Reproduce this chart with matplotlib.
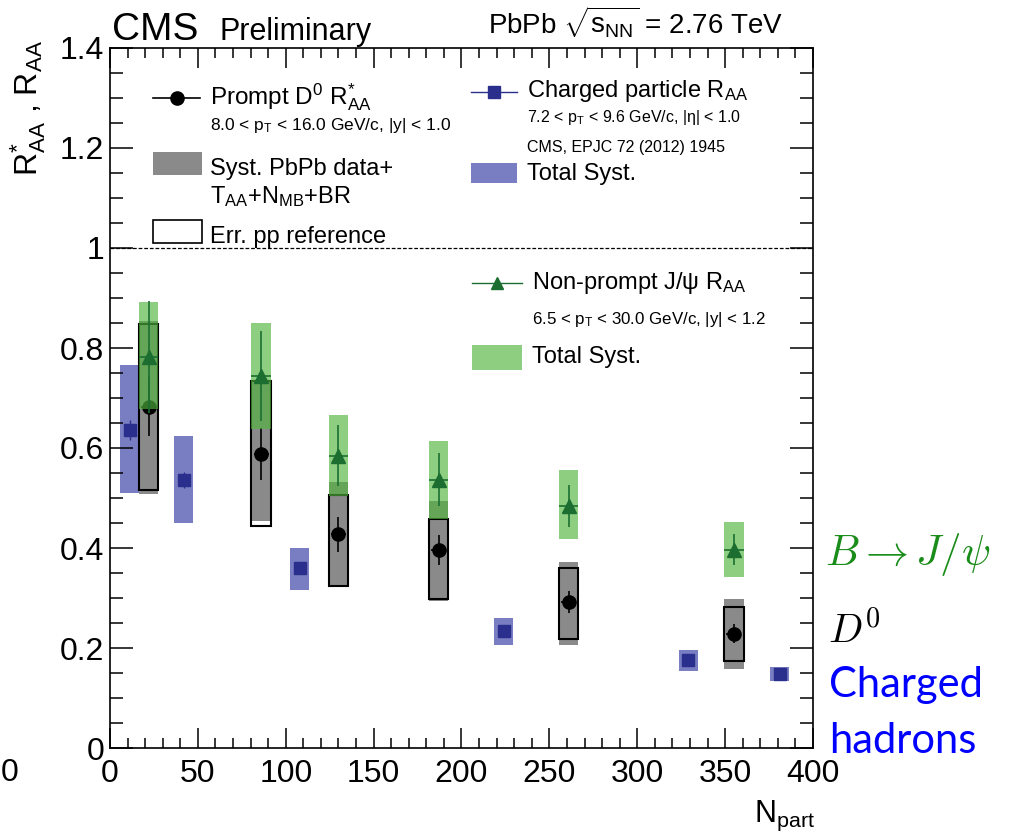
import matplotlib
matplotlib.use("Agg")
import matplotlib.pyplot as plt
from matplotlib.lines import Line2D
from matplotlib.patches import Rectangle
from matplotlib.ticker import FuncFormatter, MultipleLocator


# charged particle R_AA (CMS, EPJC 72 (2012) 1945)
npart_ch = [11.4, 42, 108, 224, 329, 381]
raa_ch = [0.637, 0.537, 0.361, 0.235, 0.177, 0.149]
stat_ch = [0.020, 0.016, 0.010, 0.008, 0.006, 0.005]
syst_ch_lo = [0.511, 0.451, 0.317, 0.207, 0.155, 0.134]
syst_ch_hi = [0.767, 0.624, 0.401, 0.261, 0.197, 0.162]

# prompt D0 R*_AA
npart_d0 = [22, 86, 130, 187, 261, 355]
raa_d0 = [0.683, 0.589, 0.428, 0.397, 0.292, 0.229]
stat_d0 = [0.058, 0.052, 0.035, 0.030, 0.022, 0.019]
syst_d0_lo = [0.509, 0.455, 0.322, 0.294, 0.207, 0.159]
syst_d0_hi = [0.855, 0.732, 0.532, 0.494, 0.372, 0.299]
pp_d0_lo = [0.517, 0.445, 0.325, 0.299, 0.219, 0.174]
pp_d0_hi = [0.849, 0.735, 0.505, 0.459, 0.360, 0.283]

# non-prompt J/psi R_AA
npart_jp = [22, 86, 130, 187, 261, 355]
raa_jp = [0.783, 0.745, 0.585, 0.537, 0.485, 0.397]
stat_jp = [0.112, 0.090, 0.061, 0.052, 0.042, 0.031]
syst_jp_lo = [0.679, 0.639, 0.505, 0.459, 0.419, 0.342]
syst_jp_hi = [0.893, 0.850, 0.667, 0.615, 0.555, 0.452]

BOX_W = 11.0

GRAY = "#8a8a8a"
BLUE_BOX = "#3237a0"
BLUE_MK = "#2a2e8c"
GREEN_BOX = "#50b43c"
GREEN_MK = "#1b6e30"

W, H = 1010, 839


def fx(px: float) -> float:
    return px / W


def fy(py: float) -> float:
    return 1 - py / H


plt.rcParams["font.family"] = ["Liberation Sans", "DejaVu Sans"]
plt.rcParams["mathtext.fontset"] = "custom"
plt.rcParams["mathtext.rm"] = "Liberation Sans"
plt.rcParams["mathtext.it"] = "Liberation Sans:italic"
plt.rcParams["mathtext.bf"] = "Liberation Sans:bold"
plt.rcParams["mathtext.sf"] = "Liberation Sans"

fig = plt.figure(figsize=(W / 100, H / 100), dpi=100)
ax = fig.add_axes([fx(110), fy(748), 703 / W, 700 / H])


def height(lo, hi):
    return [h - l for l, h in zip(lo, hi)]


# systematic boxes
ax.bar(npart_ch, height(syst_ch_lo, syst_ch_hi), bottom=syst_ch_lo, width=BOX_W,
       color=BLUE_BOX, alpha=0.65, linewidth=0, zorder=1)
ax.bar(npart_d0, height(syst_d0_lo, syst_d0_hi), bottom=syst_d0_lo, width=BOX_W,
       color=GRAY, linewidth=0, zorder=2)
ax.bar(npart_d0, height(pp_d0_lo, pp_d0_hi), bottom=pp_d0_lo, width=BOX_W,
       fill=False, edgecolor="black", linewidth=1.5, zorder=3)

ax.errorbar(npart_d0, raa_d0, yerr=stat_d0, xerr=4.3, fmt="o", color="black",
            ms=9.5, elinewidth=1.2, capsize=0, zorder=4)

ax.bar(npart_jp, height(syst_jp_lo, syst_jp_hi), bottom=syst_jp_lo, width=BOX_W,
       color=GREEN_BOX, alpha=0.65, linewidth=0, zorder=5)
ax.errorbar(npart_jp, raa_jp, yerr=stat_jp, xerr=BOX_W / 2, fmt="^", color=GREEN_MK,
            ms=9.5, elinewidth=1.2, capsize=0, zorder=6)
ax.errorbar(npart_ch, raa_ch, yerr=stat_ch, xerr=3.0, fmt="s", color=BLUE_MK,
            ms=8.5, elinewidth=1.0, capsize=0, zorder=6)

ax.axhline(1.0, color="black", linestyle=(0, (3, 1.5)), linewidth=0.9, zorder=0)

# axes, ROOT style
ax.set_xlim(0, 400)
ax.set_ylim(0, 1.4)
ax.xaxis.set_major_locator(MultipleLocator(50))
ax.xaxis.set_minor_locator(MultipleLocator(10))
ax.yaxis.set_major_locator(MultipleLocator(0.2))
ax.yaxis.set_minor_locator(MultipleLocator(0.05))
ax.yaxis.set_major_formatter(FuncFormatter(lambda v, _: f"{v:g}"))
ax.tick_params(axis="both", which="both", direction="in", top=True, right=True,
               labelsize=23, width=1.1)
ax.tick_params(axis="x", which="major", length=14.4, pad=8)
ax.tick_params(axis="x", which="minor", length=7.2)
ax.tick_params(axis="y", which="major", length=16.6, pad=4)
ax.tick_params(axis="y", which="minor", length=9.1)
for sp in ax.spines.values():
    sp.set_linewidth(1.2)

fig.text(fx(28), fy(40), r"R$^{*}_{\rm AA}$ , R$_{\rm AA}$", rotation=90,
         ha="center", va="top", fontsize=23)
fig.text(fx(815), fy(822), r"N$_{\rm part}$", ha="right", va="baseline", fontsize=22)
fig.text(fx(1), fy(781), "0", ha="left", va="baseline", fontsize=23)

# header
fig.text(fx(112), fy(40), "CMS", ha="left", va="baseline", fontsize=28)
fig.text(fx(220), fy(40), "Preliminary", ha="left", va="baseline", fontsize=22)
fig.text(fx(488), fy(34), r"PbPb $\sqrt{\mathrm{s}_{\rm NN}}$ = 2.76 TeV", ha="left",
         va="baseline", fontsize=20)

# legend, left block
leg_kw = dict(transform=fig.transFigure, clip_on=False)
fig.add_artist(Line2D([fx(153), fx(200)], [fy(97.5), fy(97.5)], color="black", lw=1.2, **leg_kw))
fig.add_artist(Line2D([fx(177)], [fy(97.5)], marker="o", ms=9.5, color="black", **leg_kw))
fig.text(fx(210), fy(104), r"Prompt D$^{0}$ R$^{*}_{\rm AA}$", fontsize=17.5, va="baseline")
fig.text(fx(210), fy(130), r"8.0 < p$_{\rm T}$ < 16.0 GeV/c, |y| < 1.0", fontsize=12.5,
         va="baseline")
fig.add_artist(Rectangle((fx(153), fy(175)), fx(49), 23 / H, facecolor=GRAY,
                         edgecolor="none", **leg_kw))
fig.text(fx(210), fy(175), "Syst. PbPb data+", fontsize=17, va="baseline")
fig.text(fx(210), fy(203), r"T$_{\rm AA}$+N$_{\rm MB}$+BR", fontsize=17, va="baseline")
fig.add_artist(Rectangle((fx(153), fy(243)), fx(49), 23 / H, facecolor="white",
                         edgecolor="black", lw=1.2, **leg_kw))
fig.text(fx(210), fy(243), "Err. pp reference", fontsize=17, va="baseline")

# legend, right block
fig.add_artist(Line2D([fx(471), fx(517)], [fy(92), fy(92)], color=BLUE_MK, lw=1.0, **leg_kw))
fig.add_artist(Line2D([fx(494)], [fy(92)], marker="s", ms=8.5, color=BLUE_MK, **leg_kw))
fig.text(fx(527), fy(97), r"Charged particle R$_{\rm AA}$", fontsize=17, va="baseline")
fig.text(fx(527), fy(122), r"7.2 < p$_{\rm T}$ < 9.6 GeV/c, |η| < 1.0", fontsize=11.5,
         va="baseline")
fig.text(fx(527), fy(152), "CMS, EPJC 72 (2012) 1945", fontsize=11.5, va="baseline")
fig.add_artist(Rectangle((fx(471), fy(183)), fx(46), 20 / H, facecolor=BLUE_BOX,
                         alpha=0.65, edgecolor="none", **leg_kw))
fig.text(fx(527), fy(180), "Total Syst.", fontsize=17, va="baseline")

fig.add_artist(Line2D([fx(472), fx(522)], [fy(283), fy(283)], color=GREEN_MK, lw=1.0, **leg_kw))
fig.add_artist(Line2D([fx(497)], [fy(283)], marker="^", ms=9, color=GREEN_MK, **leg_kw))
fig.text(fx(532), fy(289), r"Non-prompt J/ψ R$_{\rm AA}$", fontsize=17, va="baseline")
fig.text(fx(532), fy(324), r"6.5 < p$_{\rm T}$ < 30.0 GeV/c, |y| < 1.2", fontsize=12.2,
         va="baseline")
fig.add_artist(Rectangle((fx(472), fy(370)), fx(50), 25 / H, facecolor=GREEN_BOX,
                         alpha=0.65, edgecolor="none", **leg_kw))
fig.text(fx(532), fy(363), "Total Syst.", fontsize=17, va="baseline")

# annotations on the right
fig.text(fx(825), fy(565), r"$B \rightarrow J/\psi$", color="#1a8c1a", fontsize=31,
         va="baseline", math_fontfamily="cm")
fig.text(fx(828), fy(643), r"$D^0$", color="black", fontsize=29, va="baseline",
         math_fontfamily="cm")
fig.text(fx(829), fy(697), "Charged", color="#0000ff", fontsize=30, va="baseline",
         family="Lato")
fig.text(fx(829), fy(753), "hadrons", color="#0000ff", fontsize=30, va="baseline",
         family="Lato")

fig.savefig("out.png", dpi=100)
